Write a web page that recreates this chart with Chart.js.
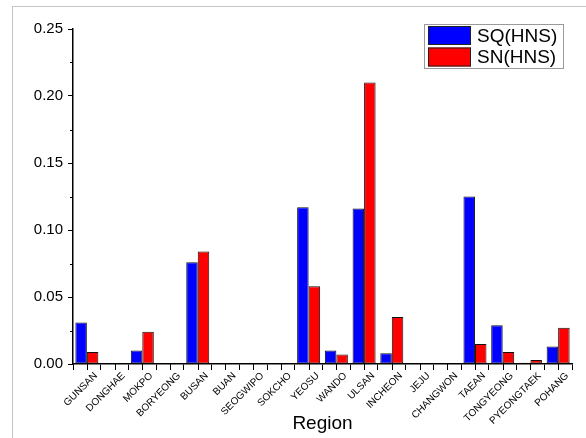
<!DOCTYPE html>
<html>
<head>
<meta charset="utf-8">
<script src="https://cdn.jsdelivr.net/npm/chart.js@4/dist/chart.umd.min.js"></script>
<style>
  body { margin: 0; background: #fff; }
  #wrap { position: relative; width: 586px; height: 438px; }
  #frame { position: absolute; left: 12px; top: 6px; width: 574px; height: 432px;
           border-left: 1px solid #c4c4c4; border-top: 1px solid #c4c4c4; }
  canvas { position: absolute; left: 0; top: 0; }
</style>
</head>
<body>
<div id="wrap">
  <div id="frame"></div>
  <canvas id="myChart" width="586" height="438"></canvas>
</div>
<script>
'use strict'

const regions = ['GUNSAN', 'DONGHAE', 'MOKPO', 'BORYEONG', 'BUSAN', 'BUAN', 'SEOGWIPO', 'SOKCHO',
  'YEOSU', 'WANDO', 'ULSAN', 'INCHEON', 'JEJU', 'CHANGWON', 'TAEAN', 'TONGYEONG', 'PYEONGTAEK', 'POHANG'];
const sqValues = [0.031, 0, 0.010, 0, 0.076, 0, 0, 0, 0.117, 0.010, 0.116, 0.008, 0, 0, 0.125, 0.029, 0.001, 0.013];
const snValues = [0.009, 0, 0.024, 0, 0.084, 0, 0, 0, 0.058, 0.007, 0.210, 0.035, 0, 0, 0.015, 0.009, 0.003, 0.027];
const yTicks = [0, 0.05, 0.10, 0.15, 0.20, 0.25];
const yMinorTicks = [0.025, 0.075, 0.125, 0.175, 0.225];

const fontFamily = "'Liberation Sans', Arial, sans-serif";

// minor ticks on y and centre ticks on x
const extraTicks = {
  id: 'extraTicks',
  afterDraw(chart) {
    const ctx = chart.ctx;
    const x = chart.scales.x;
    const y = chart.scales.y;
    ctx.save();
    ctx.strokeStyle = '#000';
    ctx.lineWidth = 1;
    ctx.beginPath();
    for (let v of yMinorTicks) {
      let py = Math.round(y.getPixelForValue(v)) + 0.5;
      ctx.moveTo(y.right - 3, py);
      ctx.lineTo(y.right, py);
    }
    for (let i = 0; i < regions.length; i++) {
      let px = Math.round(x.getPixelForValue(i)) + 0.5;
      ctx.moveTo(px, x.top);
      ctx.lineTo(px, x.top + 6);
    }
    ctx.stroke();
    ctx.restore();
  }
};

// legend box inside the plot, top right
const boxLegend = {
  id: 'boxLegend',
  afterDraw(chart) {
    const ctx = chart.ctx;
    const left = 424, top = 24, w = 139, h = 44;
    ctx.save();
    ctx.fillStyle = '#fff';
    ctx.fillRect(left, top, w, h);
    ctx.strokeStyle = '#9a9a9a';
    ctx.lineWidth = 1;
    ctx.strokeRect(left + 0.5, top + 0.5, w, h);
    ctx.font = '19px ' + fontFamily;
    ctx.textBaseline = 'middle';
    chart.data.datasets.forEach(function(ds, i) {
      let sy = top + 2 + i * 21.5;
      ctx.fillStyle = ds.backgroundColor;
      ctx.fillRect(left + 4, sy, 43, 19);
      ctx.strokeStyle = '#222';
      ctx.strokeRect(left + 4.5, sy + 0.5, 42, 18);
      ctx.fillStyle = '#000';
      ctx.fillText(ds.label, left + 53, sy + 10.5);
    });
    ctx.restore();
  }
};

const ctx = document.getElementById('myChart').getContext('2d');

const myChart = new Chart(ctx, {
  type: 'bar',
  data: {
    labels: regions,
    datasets: [{
      label: 'SQ(HNS)',
      data: sqValues,
      backgroundColor: '#0000ff',
      borderColor: '#111',
      borderWidth: 1,
      borderSkipped: false
    },
    {
      label: 'SN(HNS)',
      data: snValues,
      backgroundColor: '#ff0000',
      borderColor: '#111',
      borderWidth: 1,
      borderSkipped: false
    }]
  },
  options: {
    responsive: false,
    devicePixelRatio: 1,
    animation: false,
    barPercentage: 1,
    categoryPercentage: 0.83,
    layout: { padding: { left: 0, right: 14, top: 29, bottom: 0 } },
    plugins: {
      legend: { display: false },
      tooltip: { enabled: false }
    },
    scales: {
      x: {
        offset: true,
        grid: { offset: true, drawOnChartArea: false, tickLength: 6, color: '#000' },
        border: { color: '#000', width: 1.5 },
        ticks: {
          autoSkip: false, maxRotation: 45, minRotation: 45, padding: 0, labelOffset: 9,
          color: '#000', font: { family: fontFamily, size: 10 }
        },
        title: {
          display: true, text: 'Region', color: '#000',
          font: { family: fontFamily, size: 19 }, padding: { top: 0, bottom: 3 }
        },
        afterFit(scale) { scale.height = 74; }
      },
      y: {
        min: 0,
        max: 0.25,
        afterBuildTicks(scale) { scale.ticks = yTicks.map(v => ({ value: v })); },
        grid: { drawOnChartArea: false, tickLength: 5, color: '#000' },
        border: { color: '#000', width: 1.5 },
        ticks: {
          padding: 5, color: '#000',
          font: { family: fontFamily, size: 15 },
          callback: v => v.toFixed(2)
        },
        afterFit(scale) { scale.width = 73; }
      }
    }
  },
  plugins: [extraTicks, boxLegend]
});
</script>
</body>
</html>
